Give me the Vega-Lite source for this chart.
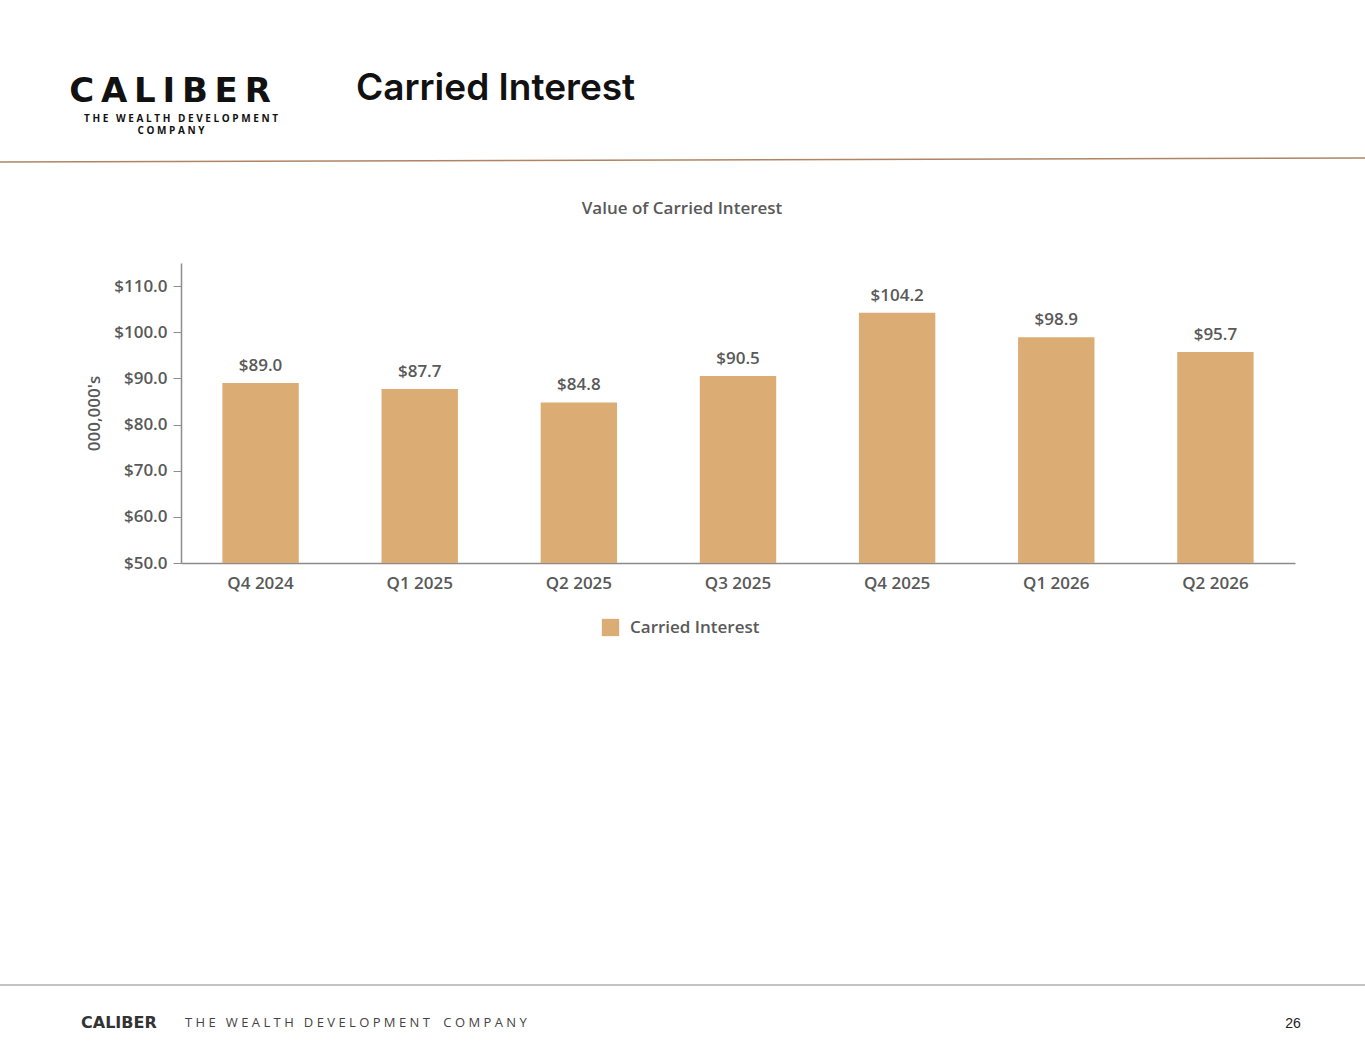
{
  "$schema": "https://vega.github.io/schema/vega-lite/v6.json",
  "autosize": "none",
  "width": 1114,
  "height": 300,
  "padding": {"left": 181, "top": 263, "right": 70, "bottom": 492},
  "background": "white",
  "config": {
    "view": {"stroke": null},
    "font": "Open Sans",
    "text": {"font": "Open Sans"}
  },
  "layer": [
    {
      "data": {"values": [
        {"quarter": "Q4 2024", "value": 89.0, "series": "Carried Interest"},
        {"quarter": "Q1 2025", "value": 87.7, "series": "Carried Interest"},
        {"quarter": "Q2 2025", "value": 84.8, "series": "Carried Interest"},
        {"quarter": "Q3 2025", "value": 90.5, "series": "Carried Interest"},
        {"quarter": "Q4 2025", "value": 104.2, "series": "Carried Interest"},
        {"quarter": "Q1 2026", "value": 98.9, "series": "Carried Interest"},
        {"quarter": "Q2 2026", "value": 95.7, "series": "Carried Interest"}
      ]},
      "encoding": {
        "x": {"field": "quarter", "type": "nominal", "sort": null,
          "scale": {"paddingInner": 0.52, "paddingOuter": 0.26},
          "axis": {"title": null, "labelAngle": 0, "ticks": false, "labelPadding": 12,
            "labelFont": "Open Sans", "labelFontSize": 17, "labelFontWeight": 600, "labelColor": "#595959",
            "domainColor": "#8c8c8c", "domainWidth": 1.5}},
        "y": {"field": "value", "type": "quantitative",
          "scale": {"domain": [50, 115], "nice": false, "zero": false},
          "axis": {"title": "000,000's", "values": [50, 60, 70, 80, 90, 100, 110], "format": "$.1f",
            "grid": false, "tickSize": 8, "tickColor": "#8c8c8c", "domainColor": "#8c8c8c", "domainWidth": 1.5,
            "labelPadding": 6, "labelFont": "Open Sans", "labelFontSize": 17, "labelFontWeight": 600, "labelColor": "#595959",
            "titleFont": "Open Sans", "titleFontSize": 17, "titleFontWeight": 600, "titleColor": "#595959", "titlePadding": 10}}
      },
      "layer": [
        {
          "mark": {"type": "bar", "clip": true},
          "encoding": {
            "color": {"field": "series", "type": "nominal",
              "scale": {"range": ["#DBAD74"]},
              "legend": {"title": null, "orient": "none", "legendX": 420, "legendY": 355,
                "symbolType": "square", "symbolSize": 300, "labelFont": "Open Sans", "labelFontSize": 17,
                "labelFontWeight": 600, "labelColor": "#595959", "labelOffset": 10}}
          }
        },
        {
          "mark": {"type": "text", "dy": -17, "fontSize": 17, "fontWeight": 600, "color": "#595959"},
          "encoding": {"text": {"field": "value", "type": "quantitative", "format": "$.1f"}}
        }
      ]
    },
    {"data": {"values": [{}]}, "mark": {"type": "text", "text": "Value of Carried Interest", "x": 501, "y": -54, "align": "center", "fontSize": 17, "fontWeight": 600, "color": "#595959"}, "encoding": {}},
    {"data": {"values": [{}]}, "mark": {"type": "text", "text": "Carried Interest", "x": 175, "y": -174, "align": "left", "fontSize": 37, "fontWeight": 600, "color": "#111111", "font": "Inter"}, "encoding": {}},
    {"data": {"values": [{}]}, "mark": {"type": "text", "text": "C\u2009A\u2009L\u2009I\u2009B\u2009E\u2009R", "x": -11, "y": -171, "align": "center", "fontSize": 34, "fontWeight": "bold", "color": "#111111", "font": "DejaVu Sans"}, "encoding": {}},
    {"data": {"values": [{}]}, "mark": {"type": "text", "text": "T H E \u00a0 W E A L T H \u00a0 D E V E L O P M E N T", "x": 0, "y": -144, "align": "center", "fontSize": 10, "fontWeight": "bold", "color": "#111111"}, "encoding": {}},
    {"data": {"values": [{}]}, "mark": {"type": "text", "text": "C O M P A N Y", "x": -10, "y": -132, "align": "center", "fontSize": 10, "fontWeight": "bold", "color": "#111111"}, "encoding": {}},
    {"data": {"values": [{}]}, "mark": {"type": "rule", "stroke": "#B08463", "strokeWidth": 1.5}, "encoding": {"x": {"value": -181}, "x2": {"value": 1184}, "y": {"value": -101}, "y2": {"value": -105}}},
    {"data": {"values": [{}]}, "mark": {"type": "rule", "stroke": "#b0b0b0", "strokeWidth": 1.5}, "encoding": {"x": {"value": -181}, "x2": {"value": 1184}, "y": {"value": 722}, "y2": {"value": 722}}},
    {"data": {"values": [{}]}, "mark": {"type": "text", "text": "CALIBER", "x": -100, "y": 760, "align": "left", "fontSize": 16, "fontWeight": "bold", "color": "#333333", "font": "DejaVu Sans"}, "encoding": {}},
    {"data": {"values": [{}]}, "mark": {"type": "text", "text": "T H E \u00a0 W E A L T H \u00a0 D E V E L O P M E N T \u00a0\u00a0 C O M P A N Y", "x": 4, "y": 760, "align": "left", "fontSize": 13, "color": "#444444"}, "encoding": {}},
    {"data": {"values": [{}]}, "mark": {"type": "text", "text": "26", "x": 1112, "y": 761, "align": "center", "fontSize": 14, "color": "#222222", "font": "Liberation Sans"}, "encoding": {}}
  ]
}
